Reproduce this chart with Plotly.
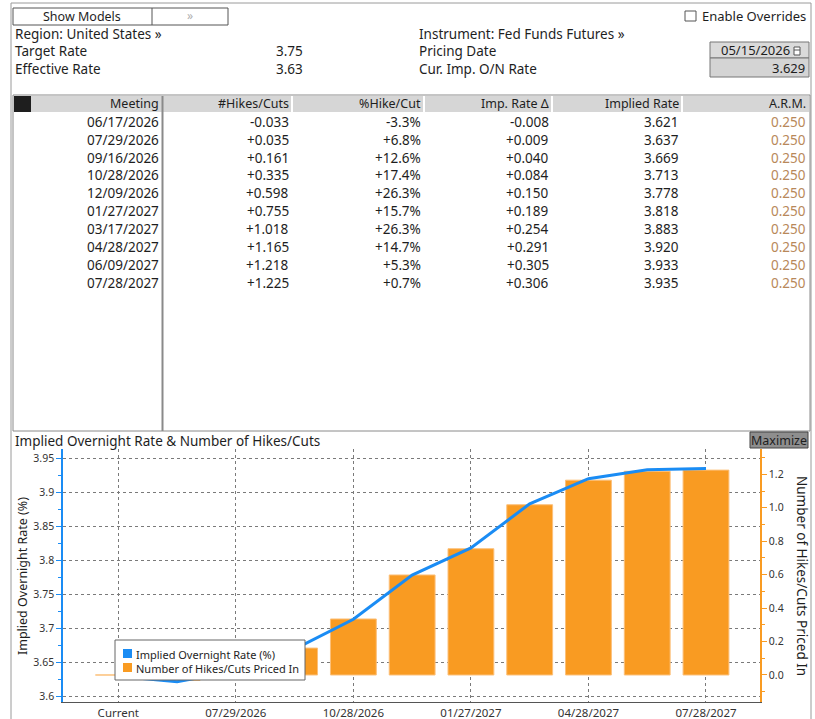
import plotly.graph_objects as go

# ---------------- data ----------------
region = "United States"
instrument = "Fed Funds Futures"
target_rate = 3.75
effective_rate = 3.63
pricing_date = "05/15/2026"
current_rate = 3.629

meetings = ["06/17/2026", "07/29/2026", "09/16/2026", "10/28/2026", "12/09/2026",
            "01/27/2027", "03/17/2027", "04/28/2027", "06/09/2027", "07/28/2027"]
hikes_cuts = [-0.033, 0.035, 0.161, 0.335, 0.598, 0.755, 1.018, 1.165, 1.218, 1.225]
pct_hike_cut = [-3.3, 6.8, 12.6, 17.4, 26.3, 15.7, 26.3, 14.7, 5.3, 0.7]
imp_rate_delta = [-0.008, 0.009, 0.040, 0.084, 0.150, 0.189, 0.254, 0.291, 0.305, 0.306]
implied_rate = [3.621, 3.637, 3.669, 3.713, 3.778, 3.818, 3.883, 3.920, 3.933, 3.935]
arm = [0.250, 0.250, 0.250, 0.250, 0.250, 0.250, 0.250, 0.250, 0.250, 0.250]

table_headers = ["Meeting", "#Hikes/Cuts", "%Hike/Cut", "Imp. Rate \u0394", "Implied Rate", "A.R.M."]

chart_categories = ["Current"] + meetings
chart_rates = [current_rate] + implied_rate
chart_hikes = [0.0] + hikes_cuts

# ---------------- styling ----------------
W, H = 815, 719
FONT = "Noto Sans"
TXT = "#1e1e1e"
BLUE = "#1a8cf4"
ORANGE = "#f99b22"
ORANGE_EDGE = "#fcc07a"
ARM_COLOR = "#b8885a"


def X(px):
    return px / W


def Y(py):
    return 1 - py / H


shapes = []
annotations = []


def rect(x0, y0, x1, y1, line="#888", fill=None, width=1, layer="above"):
    d = dict(type="rect", xref="paper", yref="paper", x0=X(x0), y0=Y(y0), x1=X(x1), y1=Y(y1),
             line=dict(color=line, width=width) if line else dict(width=0), layer=layer)
    if fill:
        d["fillcolor"] = fill
    shapes.append(d)


def seg(x0, y0, x1, y1, color="#888", width=1):
    shapes.append(dict(type="line", xref="paper", yref="paper", x0=X(x0), x1=X(x1), y0=Y(y0), y1=Y(y1),
                       line=dict(color=color, width=width), layer="above"))


def text(s, x, y, anchor="left", size=13.5, color=TXT, angle=0):
    annotations.append(dict(text=s, x=X(x), y=Y(y), xref="paper", yref="paper", showarrow=False,
                            xanchor=anchor, yanchor="middle", textangle=angle,
                            font=dict(family=FONT, size=size, color=color), borderpad=0))


# outer frame
rect(11, 3, 811, 740, line="#9a9a9a")

# top controls
rect(13, 8, 228, 25, line="#555", fill="white")
seg(152, 8, 152, 25, color="#555")
text("Show Models", 82, 16.5, anchor="center", size=12.5)
text("\u00bb", 190, 16, anchor="center", size=12, color="#b0b0b0")

rect(685, 11, 696, 21, line="#555", fill="white")
text("Enable Overrides", 807, 16.5, anchor="right", size=13)

text(f"Region: {region} \u00bb", 14, 33.5)
text("Target Rate", 14, 51.5)
text("Effective Rate", 14, 69)
text(f"{target_rate:.2f}", 304, 51.5, anchor="right")
text(f"{effective_rate:.2f}", 304, 69, anchor="right")

text(f"Instrument: {instrument} \u00bb", 418, 33.5)
text("Pricing Date", 418, 51.5)
text("Cur. Imp. O/N Rate", 418, 69)
rect(710, 42, 809, 58, line="#777", fill="#dadada")
rect(710, 58, 809, 77, line="#777", fill="#d4d4d4")
rect(794, 47, 800, 55, line="#555", fill="white")
seg(794, 50, 800, 50, color="#555")
text(pricing_date, 791, 50.5, anchor="right", size=13)
text(f"{current_rate:.3f}", 806, 68.5, anchor="right", size=13)

# ---------------- table ----------------
rect(13, 95, 810, 431, line="#8a8a8a", fill="white", layer="below")
rect(14, 96, 809, 112, line=None, fill="#d6d6d6")
col_bounds = [162, 292, 424, 552, 682, 809]
for xb in col_bounds[1:-1]:
    seg(xb, 96, xb, 112, color="white", width=2)
rect(14, 96, 31, 112, line=None, fill="#1e1e1e")
seg(162.5, 96, 162.5, 431, color="#8a8a8a", width=2)

for j, h in enumerate(table_headers):
    text(h, col_bounds[j] - 2, 104, anchor="right", size=12.5)

row0, row_h = 121.7, 17.9
for i, m in enumerate(meetings):
    yy = row0 + i * row_h
    cells = [m, f"{hikes_cuts[i]:+.3f}", f"{pct_hike_cut[i]:+.1f}%", f"{imp_rate_delta[i]:+.3f}",
             f"{implied_rate[i]:.3f}", f"{arm[i]:.3f}"]
    for j, c in enumerate(cells):
        text(c, col_bounds[j] - 2, yy, anchor="right", size=13.5,
             color=ARM_COLOR if j == 5 else TXT)

# ---------------- chart panel ----------------
text("Implied Overnight Rate & Number of Hikes/Cuts", 14, 440.5, size=13.5)
rect(750, 432, 808, 448, line="#444", fill="#8e8e8e")
text("Maximize", 779, 440.5, anchor="center", size=12.5, color="#1e1e1e")

text("Implied Overnight Rate (%)", 22, 576, anchor="center", size=12.5, angle=-90)
text("Number of Hikes/Cuts Priced In", 802, 576, anchor="center", size=13.5, angle=90)

fig = go.Figure()
fig.add_trace(go.Bar(x=chart_categories, y=chart_hikes, yaxis="y", width=0.78,
                     marker=dict(color=ORANGE, line=dict(color=ORANGE_EDGE, width=1)),
                     name="Number of Hikes/Cuts Priced In", showlegend=False))
fig.add_trace(go.Scatter(x=chart_categories, y=chart_rates, yaxis="y2", mode="lines",
                         line=dict(color=BLUE, width=3), name="Implied Overnight Rate (%)",
                         showlegend=False))

# legend box (drawn manually to match compact style)
rect(115, 640, 305, 680, line="#666", fill="white")
rect(123, 649, 132, 658, line=None, fill=BLUE)
rect(123, 663, 132, 672, line=None, fill=ORANGE)
text("Implied Overnight Rate (%)", 135, 654, size=11)
text("Number of Hikes/Cuts Priced In", 135, 668, size=11)

x_left, x_right = 63.3, 760
y_top, y_bot = 449, 702

fig.update_layout(
    width=W, height=H, margin=dict(l=0, r=0, t=0, b=0, pad=0),
    paper_bgcolor="white", plot_bgcolor="white", showlegend=False,
    font=dict(family=FONT, color=TXT),
    xaxis=dict(domain=[X(x_left), X(x_right)], type="category", range=[-0.936, 10.919],
               tickvals=chart_categories[::2], ticktext=chart_categories[::2],
               showgrid=True, gridcolor="#7a7a7a", griddash="dot", gridwidth=1,
               showline=True, linecolor="#555", linewidth=1, ticks="", zeroline=False,
               tickfont=dict(family=FONT, size=11.5, color="#333")),
    yaxis=dict(domain=[Y(y_bot), Y(y_top)], side="right", range=[-0.1615, 1.3513],
               tick0=0, dtick=0.2, tickformat=".1f", showgrid=False, zeroline=False,
               showline=True, linecolor=ORANGE, linewidth=1.5,
               ticks="outside", ticklen=5, tickcolor=ORANGE,
               minor=dict(dtick=0.1, ticks="outside", ticklen=3, tickcolor=ORANGE, showgrid=False),
               tickfont=dict(family=FONT, size=10.5, color="#333")),
    yaxis2=dict(overlaying="y", side="left", anchor="x", range=[3.5912, 3.9637],
                tick0=3.6, dtick=0.05, showgrid=True, gridcolor="#7a7a7a", griddash="dot",
                gridwidth=1, zeroline=False, showline=True, linecolor=BLUE, linewidth=2,
                ticks="outside", ticklen=5, tickcolor=BLUE,
                minor=dict(dtick=0.025, ticks="outside", ticklen=3, tickcolor=BLUE, showgrid=False),
                tickfont=dict(family=FONT, size=10.5, color="#333")),
    shapes=shapes, annotations=annotations,
)

fig.write_html("out.html", config={"displayModeBar": False},
               post_script="document.body.style.margin='0';document.body.style.overflow='hidden';")
